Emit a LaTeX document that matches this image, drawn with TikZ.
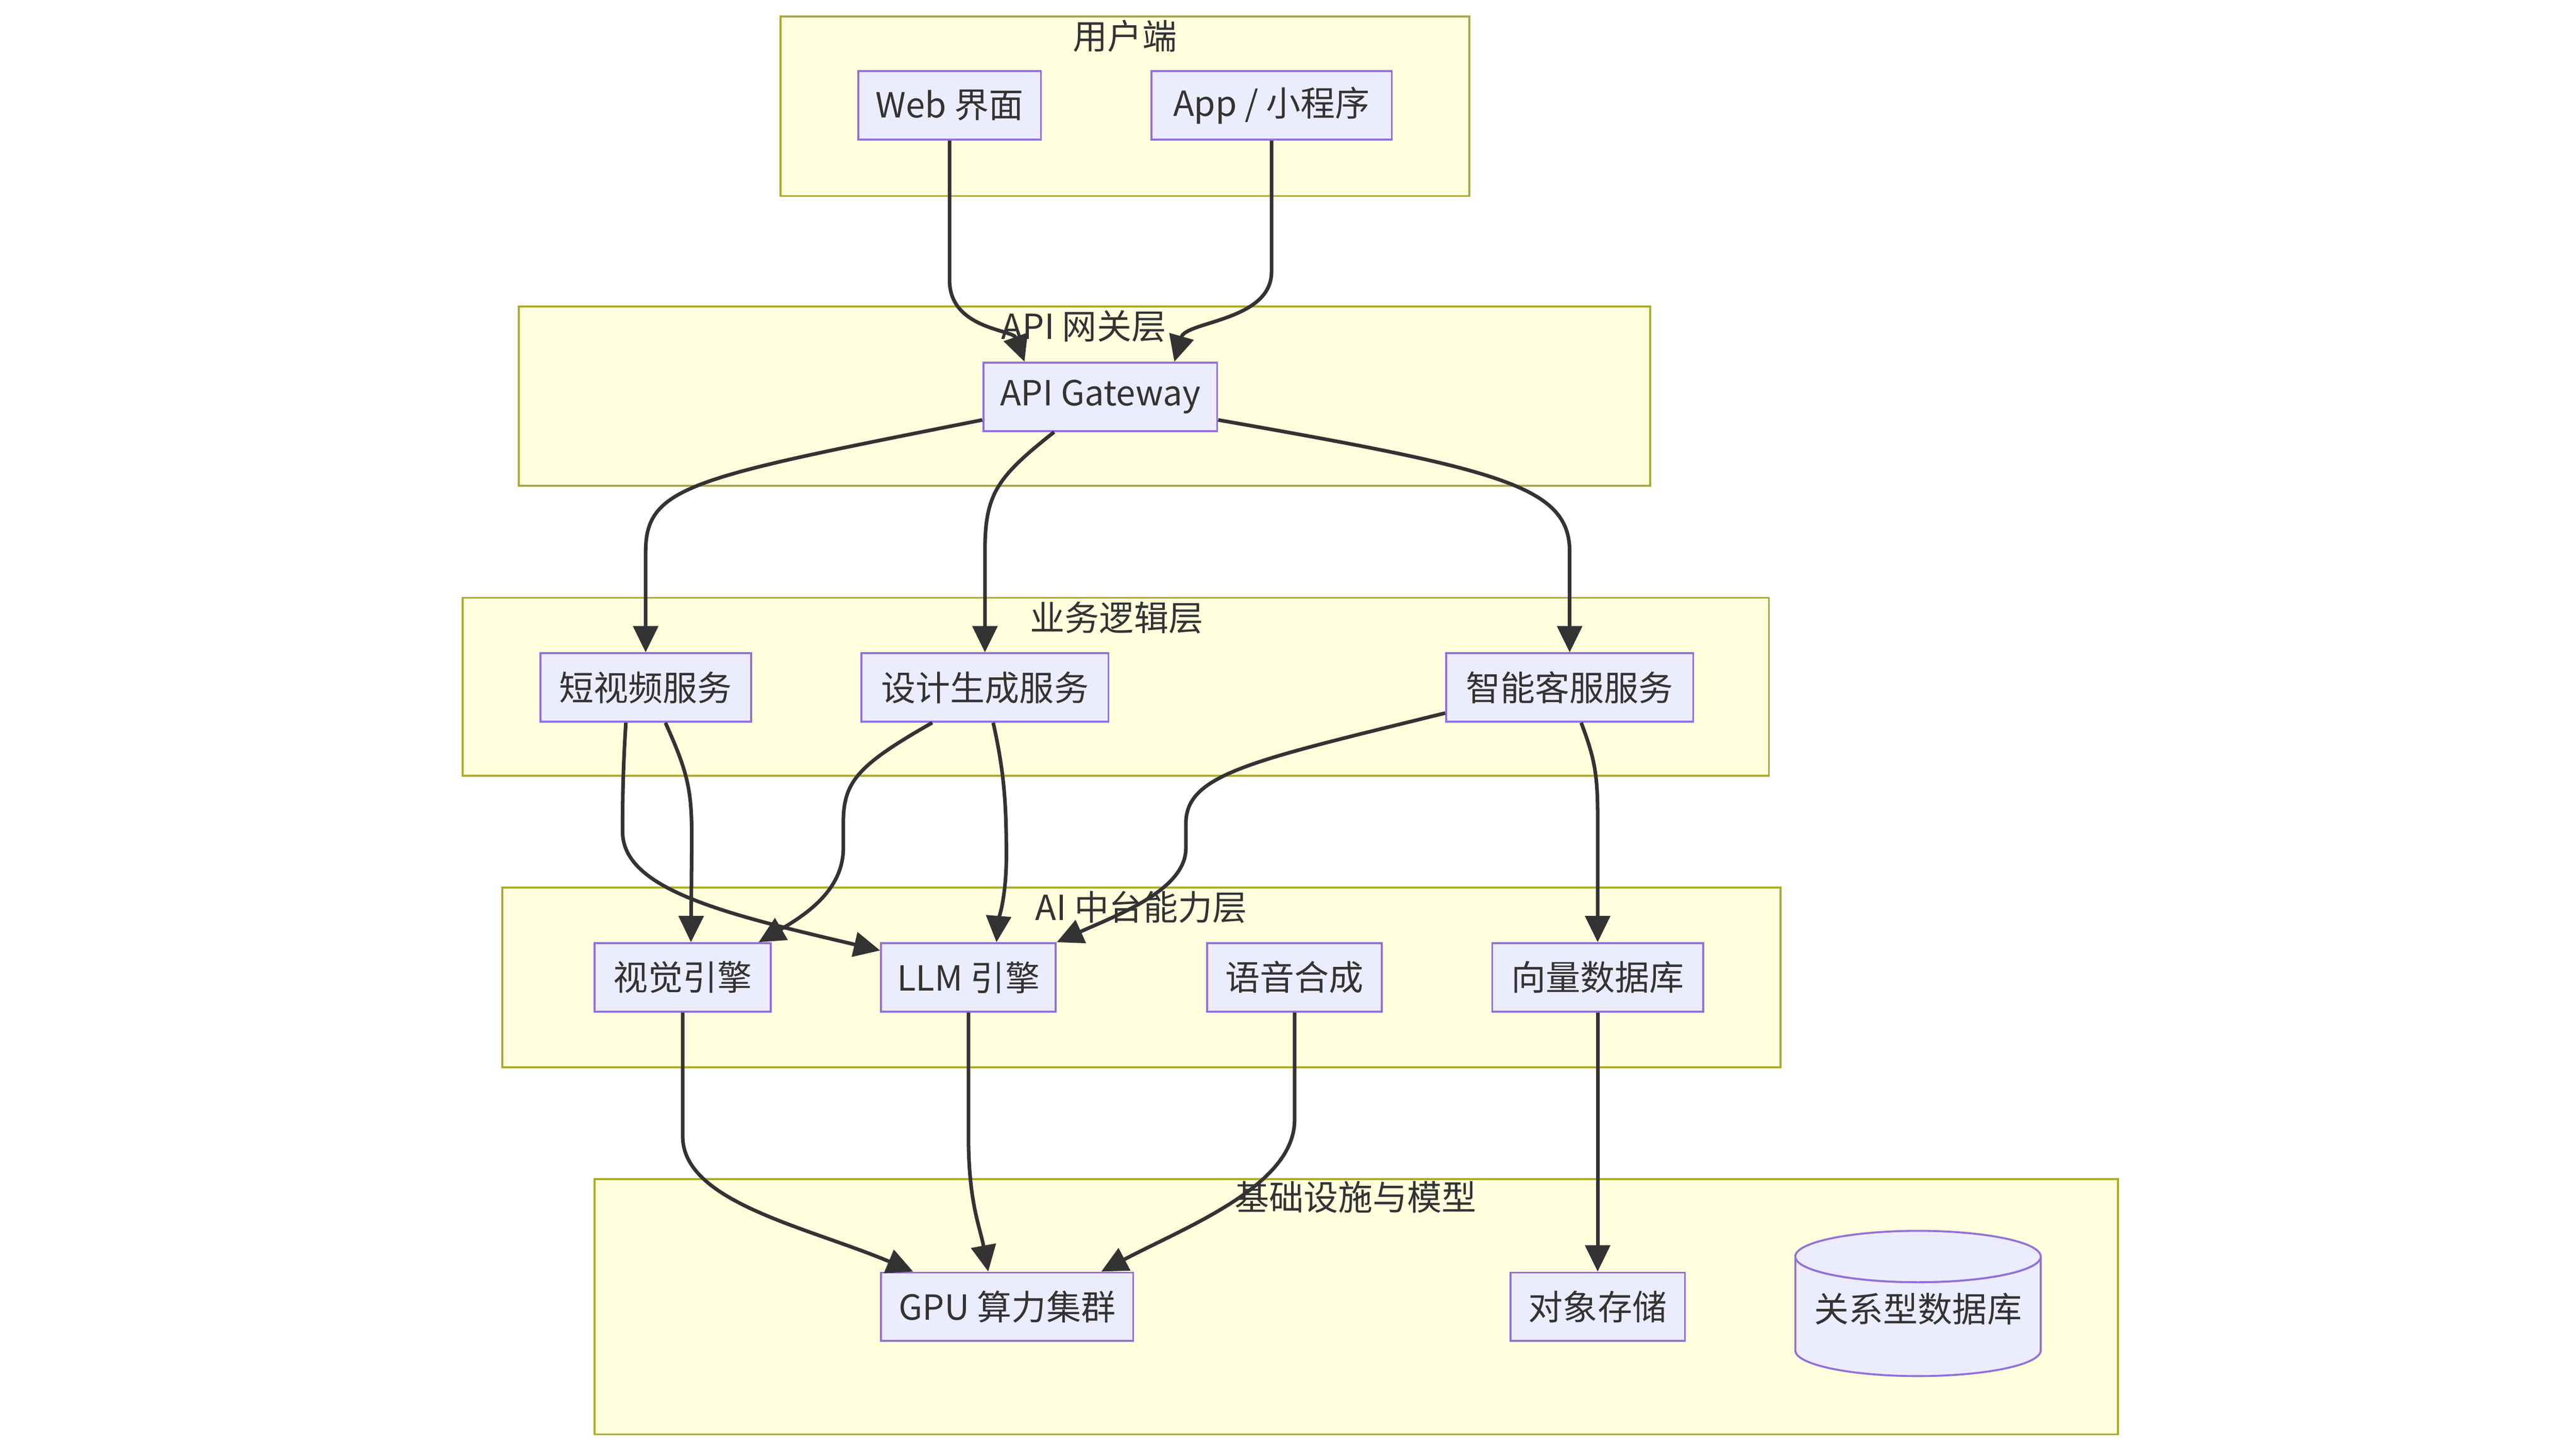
\documentclass[tikz,border=0pt]{standalone}
\usepackage{fontspec}
\setmainfont{Noto Sans CJK SC}
\usetikzlibrary{arrows.meta,calc}
\definecolor{sgfill}{HTML}{FFFFDE}
\definecolor{sgdraw}{HTML}{AAAA33}
\definecolor{ndfill}{HTML}{ECECFF}
\definecolor{nddraw}{HTML}{9370DB}
\definecolor{txt}{HTML}{333333}
\begin{document}
\begin{tikzpicture}[x=0.5pt,y=-0.5pt,
  every node/.style={font=\fontsize{10.5pt}{12pt}\selectfont, text=txt, inner sep=0pt},
  group/.style={fill=sgfill, draw=sgdraw, line width=0.6pt},
  grouptitle/.style={anchor=center},
  nodebox/.style={rectangle, fill=ndfill, draw=nddraw, line width=0.6pt, minimum height=20.75pt},
  arr/.style={draw=txt, line width=1.1pt, -{Triangle[length=8pt,width=7.5pt]}}]
\useasboundingbox (0,0) rectangle (1564,879);
% groups
\draw[group] (474,10) rectangle (892,119);
\node[grouptitle] (t1) at (683,22) {用户端};
\draw[group] (315,186) rectangle (1002,295);
\node[grouptitle] (t2) at (658,198) {API 网关层};
\draw[group] (281,363) rectangle (1074,471);
\node[grouptitle] (t3) at (678,375) {业务逻辑层};
\draw[group] (305,539) rectangle (1081,648);
\node[grouptitle] (t4) at (693,551) {AI 中台能力层};
\draw[group] (361,716) rectangle (1286,871);
\node[grouptitle] (t5) at (823,727) {基础设施与模型};
% nodes
\node[nodebox, minimum width=55.5pt] (web) at (576.5,64) {Web 界面};
\node[nodebox, minimum width=73pt] (app) at (772,64) {App / 小程序};
\node[nodebox, minimum width=71pt] (gw) at (668,241) {API Gateway};
\node[nodebox, minimum width=64pt] (sv) at (392,417.5) {短视频服务};
\node[nodebox, minimum width=75pt] (dg) at (598,417.5) {设计生成服务};
\node[nodebox, minimum width=75pt] (cs) at (953,417.5) {智能客服服务};
\node[nodebox, minimum width=53.5pt] (ve) at (414.5,593.5) {视觉引擎};
\node[nodebox, minimum width=53pt] (llm) at (588,593.5) {LLM 引擎};
\node[nodebox, minimum width=53pt] (voice) at (786,593.5) {语音合成};
\node[nodebox, minimum width=64pt] (vd) at (970,593.5) {向量数据库};
\node[nodebox, minimum width=76.5pt] (gpu) at (611.5,793.5) {GPU 算力集群};
\node[nodebox, minimum width=53pt] (os) at (970,793.5) {对象存储};
% cylinder
\path[fill=ndfill, draw=nddraw, line width=0.6pt]
  (1090,763) arc[start angle=180, end angle=360, x radius=37.25pt, y radius=7.8pt]
  -- (1239,820) arc[start angle=0, end angle=-180, x radius=37.25pt, y radius=7.8pt] -- cycle;
\draw[fill=ndfill, draw=nddraw, line width=0.6pt] (1164.5,763) ellipse[x radius=37.25pt, y radius=7.8pt];
\node (rdb) at (1164.5,795) {关系型数据库};
% edges
\draw[arr] (web.south) -- (576.5,170) .. controls (576.5,200) and (615,200) .. ([xshift=-23pt]gw.north);
\draw[arr] (app.south) -- (772,165) .. controls (772,195) and (720,195) .. ([xshift=22.5pt]gw.north);
\draw[arr] ([yshift=-7pt]gw.west) .. controls (420,290) and (392,295) .. (392,335) -- (sv.north);
\draw[arr] ([xshift=-14pt]gw.south) .. controls (605,290) and (598,300) .. (598,335) -- (dg.north);
\draw[arr] ([yshift=-7pt]gw.east) .. controls (910,285) and (953,295) .. (953,335) -- (cs.north);
\draw[arr] ([xshift=6pt]sv.south) .. controls (418,470) and (420,480) .. (420,510) -- ([xshift=2.5pt]ve.north);
\draw[arr] ([xshift=-6pt]sv.south) .. controls (378,470) and (378,490) .. (378,505) .. controls (378,540) and (440,555) .. ([yshift=-2.5pt]llm.north west);
\draw[arr] ([xshift=-16pt]dg.south) .. controls (520,465) and (512,475) .. (512,500) -- (512,515) .. controls (512,540) and (490,555) .. ([xshift=-4pt]ve.north east);
\draw[arr] ([xshift=2.5pt]dg.south) .. controls (610,470) and (611,490) .. (611,520) .. controls (611,545) and (606,560) .. ([xshift=8.5pt]llm.north);
\draw[arr] ([yshift=-7.75pt]cs.west) .. controls (760,462) and (720,470) .. (720,500) -- (720,515) .. controls (720,540) and (680,555) .. (llm.north east);
\draw[arr] ([xshift=3.5pt]cs.south) .. controls (968,460) and (970,470) .. (970,495) -- (vd.north);
\draw[arr] (ve.south) -- (414.5,690) .. controls (414.5,730) and (490,745) .. ([xshift=10pt]gpu.north west);
\draw[arr] (llm.south) -- (588,690) .. controls (588,730) and (595,745) .. ([xshift=-5.75pt]gpu.north);
\draw[arr] (voice.south) -- (786,680) .. controls (786,720) and (720,745) .. ([xshift=-10pt]gpu.north east);
\draw[arr] (vd.south) -- (os.north);
\end{tikzpicture}
\end{document}
